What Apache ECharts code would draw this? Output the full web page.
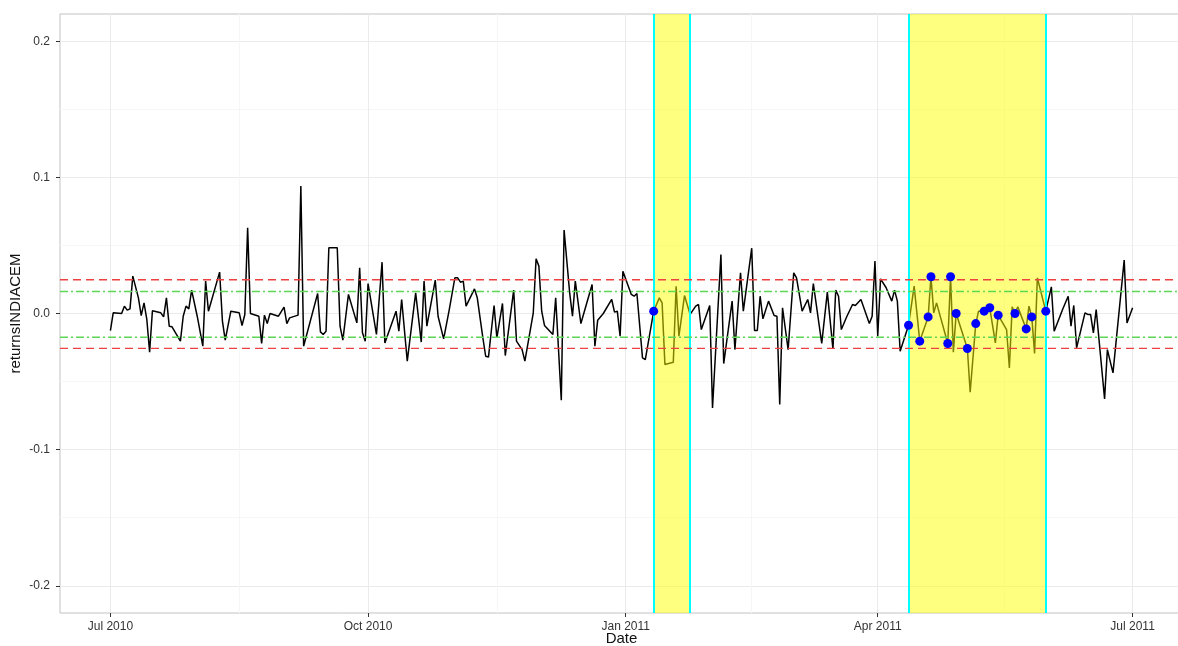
<!DOCTYPE html>
<html>
<head>
<meta charset="utf-8">
<script src="https://cdn.jsdelivr.net/npm/echarts@6/dist/echarts.min.js"></script>
<style>
html,body{margin:0;padding:0;background:#fff;}
#chart{width:1178px;height:646px;}
</style>
</head>
<body>
<div id="chart"></div>
<script>
// ---- data ----
const dates = [
 '2010-07-01','2010-07-02','2010-07-05','2010-07-06','2010-07-07','2010-07-08','2010-07-09','2010-07-11','2010-07-12','2010-07-13','2010-07-14','2010-07-15','2010-07-16','2010-07-19','2010-07-20','2010-07-21','2010-07-22','2010-07-23','2010-07-26','2010-07-27','2010-07-28','2010-07-29','2010-07-30',
 '2010-08-01','2010-08-03','2010-08-04','2010-08-05','2010-08-09','2010-08-10','2010-08-11','2010-08-13','2010-08-16','2010-08-17','2010-08-18','2010-08-19','2010-08-20','2010-08-23','2010-08-24','2010-08-25','2010-08-26','2010-08-27','2010-08-30',
 '2010-09-01','2010-09-02','2010-09-03','2010-09-06','2010-09-07','2010-09-08','2010-09-13','2010-09-14','2010-09-15','2010-09-16','2010-09-17','2010-09-20','2010-09-21','2010-09-22','2010-09-24','2010-09-27','2010-09-28','2010-09-29','2010-09-30',
 '2010-10-01','2010-10-04','2010-10-06','2010-10-07','2010-10-11','2010-10-12','2010-10-13','2010-10-15','2010-10-18','2010-10-20','2010-10-21','2010-10-22','2010-10-25','2010-10-26','2010-10-28','2010-10-30',
 '2010-11-01','2010-11-02','2010-11-03','2010-11-04','2010-11-05','2010-11-08','2010-11-09','2010-11-11','2010-11-12','2010-11-13','2010-11-15','2010-11-16','2010-11-18','2010-11-19','2010-11-22','2010-11-23','2010-11-25','2010-11-26','2010-11-29','2010-11-30',
 '2010-12-01','2010-12-02','2010-12-03','2010-12-06','2010-12-07','2010-12-09','2010-12-10','2010-12-12','2010-12-13','2010-12-14','2010-12-16','2010-12-20','2010-12-21','2010-12-22','2010-12-24','2010-12-27','2010-12-28','2010-12-29','2010-12-30','2010-12-31',
 '2011-01-03','2011-01-04','2011-01-05','2011-01-07','2011-01-08','2011-01-11','2011-01-13','2011-01-14','2011-01-15','2011-01-18','2011-01-19','2011-01-20','2011-01-22','2011-01-24','2011-01-26','2011-01-27','2011-01-28','2011-01-31',
 '2011-02-01','2011-02-04','2011-02-05','2011-02-08','2011-02-09','2011-02-11','2011-02-12','2011-02-15','2011-02-16','2011-02-17','2011-02-18','2011-02-19','2011-02-21','2011-02-23','2011-02-24','2011-02-25','2011-02-26','2011-02-28',
 '2011-03-02','2011-03-03','2011-03-05','2011-03-07','2011-03-08','2011-03-09','2011-03-12','2011-03-14','2011-03-16','2011-03-17','2011-03-18','2011-03-19','2011-03-21','2011-03-23','2011-03-24','2011-03-26','2011-03-29','2011-03-30','2011-03-31',
 '2011-04-01','2011-04-02','2011-04-04','2011-04-06','2011-04-07','2011-04-08','2011-04-09','2011-04-12','2011-04-14','2011-04-16','2011-04-19','2011-04-20','2011-04-21','2011-04-22','2011-04-26','2011-04-27','2011-04-28','2011-04-29',
 '2011-05-03','2011-05-04','2011-05-06','2011-05-07','2011-05-09','2011-05-11','2011-05-13','2011-05-14','2011-05-17','2011-05-18','2011-05-19','2011-05-20','2011-05-21','2011-05-24','2011-05-25','2011-05-26','2011-05-27','2011-05-28','2011-05-31',
 '2011-06-02','2011-06-03','2011-06-06','2011-06-08','2011-06-09','2011-06-10','2011-06-11','2011-06-14','2011-06-15','2011-06-16','2011-06-17','2011-06-18','2011-06-21','2011-06-22','2011-06-24','2011-06-28','2011-06-29',
 '2011-07-01'
];
const returns = [
 -0.0125,0.0005,0.0000,0.0054,0.0025,0.0034,0.0275,0.0115,-0.0015,0.0078,-0.0044,-0.0284,0.0020,0.0005,-0.0025,0.0115,-0.0093,-0.0098,-0.0203,-0.0020,0.0054,0.0034,0.0172,
 -0.0020,-0.0240,0.0238,0.0017,0.0304,-0.0056,-0.0196,0.0017,0.0005,-0.0088,-0.0007,0.0630,0.0000,-0.0020,-0.0220,-0.0012,-0.0074,0.0000,-0.0020,
 0.0047,-0.0074,-0.0032,-0.0012,0.0936,-0.0240,0.0147,-0.0135,-0.0154,-0.0130,0.0483,0.0483,-0.0093,-0.0196,0.0140,-0.0069,0.0336,-0.0142,-0.0203,
 0.0220,-0.0154,0.0377,-0.0216,0.0017,-0.0130,0.0103,-0.0350,0.0152,-0.0210,0.0238,-0.0093,0.0245,-0.0020,-0.0186,0.0029,
 0.0262,0.0262,0.0230,0.0238,0.0054,0.0181,0.0115,-0.0179,-0.0314,-0.0320,0.0059,-0.0179,0.0074,-0.0309,0.0172,-0.0203,-0.0265,-0.0350,0.0005,0.0402,
 0.0348,0.0017,-0.0088,-0.0154,0.0115,-0.0637,0.0613,0.0150,-0.0020,0.0238,-0.0074,0.0213,-0.0240,-0.0049,0.0000,0.0103,0.0010,0.0017,-0.0167,0.0311,
 0.0140,0.0127,0.0147,-0.0326,-0.0338,0.0017,0.0115,0.0078,-0.0375,-0.0358,0.0200,-0.0167,0.0132,-0.0007,0.0054,0.0066,-0.0118,0.0059,
 -0.0694,0.0434,-0.0368,0.0091,-0.0265,0.0299,0.0017,0.0480,-0.0125,-0.0125,0.0127,-0.0039,0.0091,-0.0015,-0.0020,-0.0669,0.0042,-0.0265,
 0.0299,0.0262,0.0017,0.0103,0.0005,0.0220,-0.0220,0.0157,-0.0260,0.0172,0.0127,-0.0118,-0.0020,0.0066,0.0059,0.0103,-0.0074,-0.0020,0.0385,
 -0.0167,0.0255,0.0189,0.0091,0.0172,0.0091,-0.0277,-0.0086,0.0201,-0.0203,-0.0025,0.0270,0.0005,0.0078,-0.0220,0.0270,-0.0284,0.0000,
 -0.0257,-0.0578,-0.0074,0.0017,0.0017,0.0042,-0.0216,-0.0012,-0.0118,-0.0400,0.0049,0.0000,0.0049,-0.0113,0.0054,-0.0025,-0.0294,0.0262,0.0017,
 0.0196,-0.0130,0.0029,0.0127,-0.0093,0.0059,-0.0252,0.0005,-0.0007,-0.0007,-0.0142,0.0029,-0.0627,-0.0265,-0.0436,0.0392,-0.0069,
 0.0042
];
const eventDates = ['2011-01-11','2011-04-12','2011-04-16','2011-04-19','2011-04-20','2011-04-26','2011-04-27','2011-04-29','2011-05-03','2011-05-06','2011-05-09','2011-05-11','2011-05-14','2011-05-20','2011-05-24','2011-05-26','2011-05-31'];
const windowStarts = ['2011-01-11','2011-04-12'];
const windowEnds = ['2011-01-24','2011-05-31'];
const redLevels = [0.0248, -0.0256];
const greenLevels = [0.0162, -0.0174];
const xTickDates = ['2010-07-01','2010-10-01','2011-01-01','2011-04-01','2011-07-01'];
const xTickLabels = ['Jul 2010','Oct 2010','Jan 2011','Apr 2011','Jul 2011'];
const xMinorDates = ['2010-08-16','2010-11-16','2011-02-15','2011-05-16'];
const yTicks = [-0.2,-0.1,0,0.1,0.2];
const yMinorTicks = [-0.15,-0.05,0.05,0.15];
const xRange = ['2010-06-13','2011-07-19'];
const yRange = [-0.22, 0.22];

// ---- build ----
function ts(s){ const p = s.split('-').map(Number); return Date.UTC(p[0], p[1]-1, p[2]); }
if (dates.length !== returns.length) console.error('length mismatch', dates.length, returns.length);
const xTickTs = xTickDates.map(ts);
const xMin = ts(xRange[0]), xMax = ts(xRange[1]);
const font = "'Liberation Sans', Arial, Helvetica, sans-serif";

function levelSeries(v, color, dash, width) {
  return {
    type: 'line', z: 5, silent: true, symbol: 'none', showSymbol: false,
    data: [[xMin, v], [xMax, v]],
    lineStyle: {color: color, type: dash, width: width}
  };
}

const chart = echarts.init(document.getElementById('chart'), null, {renderer:'canvas'});
chart.setOption({
  animation: false,
  backgroundColor: '#ffffff',
  grid: {
    left: 60, top: 14, width: 1123, height: 599,
    show: true, borderColor: '#c2c2c2', borderWidth: 1, backgroundColor: 'transparent',
    containLabel: false, outerBoundsMode: 'none'
  },
  xAxis: [{
    type: 'value', min: xMin, max: xMax, position: 'bottom',
    axisLine: {show: false, onZero: false},
    axisTick: {show: true, length: 4, customValues: xTickTs, lineStyle: {color: '#333'}},
    axisLabel: {
      customValues: xTickTs, color: '#333', fontSize: 12, margin: 8, fontFamily: font,
      formatter: function (v) { const i = xTickTs.indexOf(v); return i >= 0 ? xTickLabels[i] : ''; }
    },
    splitLine: {show: true, lineStyle: {color: '#ebebeb', width: 1}},
    name: 'Date', nameLocation: 'middle', nameGap: 18, nameMoveOverlap: false,
    nameTextStyle: {fontSize: 15, color: '#111', fontFamily: font}
  }, {
    type: 'value', min: xMin, max: xMax, position: 'top',
    axisLine: {show: false, onZero: false},
    axisTick: {show: false, customValues: xMinorDates.map(ts)},
    axisLabel: {show: false},
    splitLine: {show: true, lineStyle: {color: '#f6f6f6', width: 1}}
  }],
  yAxis: [{
    type: 'value', min: yRange[0], max: yRange[1], position: 'left',
    axisLine: {show: false, onZero: false},
    axisTick: {show: true, length: 4, customValues: yTicks, lineStyle: {color: '#333'}},
    axisLabel: {
      customValues: yTicks, color: '#333', fontSize: 12, margin: 10, fontFamily: font,
      formatter: function (v) { return v.toFixed(1); }
    },
    splitLine: {show: true, lineStyle: {color: '#ebebeb', width: 1}},
    name: 'returnsINDIACEM', nameLocation: 'middle', nameGap: 37, nameMoveOverlap: false,
    nameTextStyle: {fontSize: 15, color: '#111', fontFamily: font}
  }, {
    type: 'value', min: yRange[0], max: yRange[1], position: 'right',
    axisLine: {show: false, onZero: false},
    axisTick: {show: false, customValues: yMinorTicks},
    axisLabel: {show: false},
    splitLine: {show: true, lineStyle: {color: '#f6f6f6', width: 1}}
  }],
  series: [{
    type: 'line', z: 2,
    data: dates.map(function (d, i) { return [ts(d), returns[i]]; }),
    symbol: 'none', showSymbol: false,
    lineStyle: {color: '#000000', width: 1.5}
  }, {
    type: 'line', z: 3, data: [],
    markArea: {
      z: 3, silent: true,
      itemStyle: {color: 'rgba(255,255,0,0.5)', borderWidth: 0},
      data: windowStarts.map(function (s, i) { return [{xAxis: ts(s)}, {xAxis: ts(windowEnds[i])}]; })
    },
    markLine: {
      z: 4, silent: true, symbol: 'none', label: {show: false},
      lineStyle: {color: '#00ffff', type: 'solid', width: 2},
      data: windowStarts.concat(windowEnds).map(function (s) { return {xAxis: ts(s)}; })
    }
  },
  levelSeries(redLevels[0], '#ee4040', [8, 5], 1.3),
  levelSeries(redLevels[1], '#ee4040', [8, 5], 1.3),
  levelSeries(greenLevels[0], '#5ed858', [8, 3, 2, 3], 1.5),
  levelSeries(greenLevels[1], '#5ed858', [8, 3, 2, 3], 1.5),
  {
    type: 'scatter', z: 6,
    data: eventDates.map(function (d) { return [ts(d), returns[dates.indexOf(d)]]; }),
    symbol: 'circle', symbolSize: 9,
    itemStyle: {color: '#0000ff', opacity: 1}
  }]
});
</script>
</body>
</html>
